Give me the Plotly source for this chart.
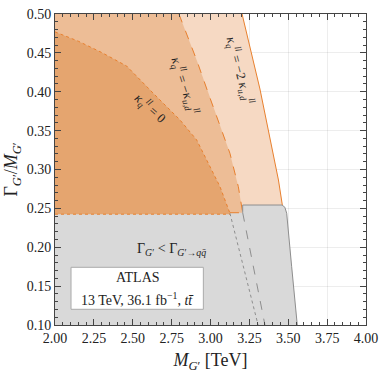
import plotly.graph_objects as go

# ---- data ----
# kappa_q = 0 boundary (dotted)
k0_x = [2.00, 2.15, 2.30, 2.461, 2.632, 2.804, 2.911, 2.997, 3.061, 3.125]
k0_g = [0.477, 0.465, 0.4505, 0.433, 0.398, 0.3637, 0.338, 0.3036, 0.2779, 0.2437]
# kappa_q = -kappa_ud boundary (dashed)
k1_x = [2.797, 2.911, 2.986, 3.061, 3.125, 3.179, 3.207]
k1_g = [0.50, 0.4408, 0.398, 0.355, 0.3208, 0.2779, 0.2444]
# kappa_q = -2 kappa_ud boundary (solid)
k2_x = [3.203, 3.318, 3.437, 3.462]
k2_g = [0.50, 0.4035, 0.2865, 0.2543]
# continuations inside the grey region
k0_cont_x = [3.125, 3.306]
k0_cont_g = [0.2437, 0.10]
k1_cont_x = [3.207, 3.350]
k1_cont_g = [0.2444, 0.10]
# grey region (Gamma < Gamma_qq) outline
grey_x = [2.00, 2.00, 3.125, 3.125, 3.207, 3.207, 3.46, 3.478, 3.49, 3.522, 3.558]
grey_g = [0.10, 0.2425, 0.2425, 0.2444, 0.2444, 0.2543, 0.2543, 0.2515, 0.2437, 0.175, 0.10]

xmin, xmax, ymin, ymax = 2.0, 4.0, 0.10, 0.50
x_ticks = [2.00, 2.25, 2.50, 2.75, 3.00, 3.25, 3.50, 3.75, 4.00]
y_ticks = [0.10, 0.15, 0.20, 0.25, 0.30, 0.35, 0.40, 0.45, 0.50]

C_LIGHT = "#F6D9C3"
C_MID = "#EDBD96"
C_DARK = "#E5A56F"
C_GREY = "#D9D9D9"
C_LINE = "#E8802E"
C_GLINE = "#8E8E8E"
FONT = "Liberation Serif"

fig = go.Figure()

def poly(xs, ys, color):
    fig.add_trace(go.Scatter(x=xs, y=ys, fill="toself", fillcolor=color, mode="lines",
                             line=dict(width=0), hoverinfo="skip", showlegend=False))

# light region
poly([xmin] + k2_x + [xmin], [ymax] + k2_g + [0.2], C_LIGHT)
# mid region
poly([xmin] + k1_x + [k1_x[-1], xmin], [ymax] + k1_g + [0.2, 0.2], C_MID)
# dark region
poly(k0_x + [k0_x[-1], xmin], k0_g + [0.2, 0.2], C_DARK)
# grey region
poly(grey_x, grey_g, C_GREY)

def line(xs, ys, color, dash, width=1.0):
    fig.add_trace(go.Scatter(x=xs, y=ys, mode="lines", line=dict(color=color, dash=dash, width=width),
                             hoverinfo="skip", showlegend=False))

line(k2_x, k2_g, C_LINE, "solid")
line(k1_x, k1_g, C_LINE, "dash")
line(k0_x, k0_g, C_LINE, "dot")
line([xmin, k0_x[-1]], [grey_g[1], grey_g[2]], C_LINE, "dot")
line([k0_x[-1], k1_x[-1]], [grey_g[3], grey_g[4]], C_LINE, "dash")
line(k0_cont_x, k0_cont_g, C_GLINE, "dot")
line(k1_cont_x, k1_cont_g, C_GLINE, "dash")
line([k1_x[-1], k1_x[-1]], [grey_g[4], grey_g[5]], C_GLINE, "dash")
line(grey_x[5:], grey_g[5:], C_GLINE, "solid")

# legend box
fig.add_shape(type="rect", x0=2.103, x1=2.954, y0=0.1202, y1=0.1742,
              fillcolor="white", line=dict(color="#AAAAAA", width=1), layer="above")

ann = [
    dict(x=2.531, y=0.1613, text="ATLAS", textangle=0, size=14),
    dict(x=2.531, y=0.1335, text="13 TeV, 36.1 fb<sup>−1</sup>, <i>tt̄</i>", textangle=0, size=14),
    dict(x=2.75, y=0.1977, text="Γ<sub><i>G</i>′</sub> &lt; Γ<sub><i>G</i>′→<i>qq̄</i></sub>", textangle=0, size=14),
    dict(x=2.611, y=0.3787, text="<i>κ</i><sub><i>q</i></sub><sup><i>ll</i></sup> = 0", textangle=42, size=13),
    dict(x=2.836, y=0.4078, text="<i>κ</i><sub><i>q</i></sub><sup><i>ll</i></sup> = −<i>κ</i><sub><i>u,d</i></sub><sup><i>ll</i></sup>", textangle=72, size=13),
    dict(x=3.19, y=0.427, text="<i>κ</i><sub><i>q</i></sub><sup><i>ll</i></sup> = −2 <i>κ</i><sub><i>u,d</i></sub><sup><i>ll</i></sup>", textangle=75, size=13),
]
for a in ann:
    fig.add_annotation(x=a["x"], y=a["y"], text=a["text"], textangle=a["textangle"], showarrow=False,
                       font=dict(family=FONT, size=a["size"], color="#222222"))

axis_common = dict(
    showline=True, linecolor="#444444", linewidth=1, mirror="allticks",
    ticks="inside", ticklen=6, tickwidth=1, tickcolor="#444444",
    showgrid=True, gridcolor="rgba(0,0,0,0.07)", gridwidth=1,
    zeroline=False, layer="above traces", automargin=False,
    tickfont=dict(family=FONT, size=14, color="#222222"),
)
fig.update_xaxes(range=[xmin, xmax], tickvals=x_ticks, ticktext=[f"{v:.2f}" for v in x_ticks],
                 minor=dict(dtick=0.05, ticks="inside", ticklen=3, tickcolor="#444444", showgrid=False),
                 title=dict(text="<i>M</i><sub><i>G</i>′</sub> [TeV]", font=dict(family=FONT, size=18, color="#222222"), standoff=8),
                 **axis_common)
fig.update_yaxes(range=[ymin, ymax], tickvals=y_ticks, ticktext=[f"{v:.2f}" for v in y_ticks],
                 minor=dict(dtick=0.01, ticks="inside", ticklen=3, tickcolor="#444444", showgrid=False),
                 title=dict(text="Γ<sub><i>G</i>′</sub>/<i>M</i><sub><i>G</i>′</sub>", font=dict(family=FONT, size=18, color="#222222"), standoff=4),
                 **axis_common)

fig.update_layout(width=380, height=374, margin=dict(l=55, r=14, t=14, b=49),
                  plot_bgcolor="white", paper_bgcolor="white")

fig.write_html("out.html", config={"displayModeBar": False},
               post_script="document.body.style.margin='0';")
